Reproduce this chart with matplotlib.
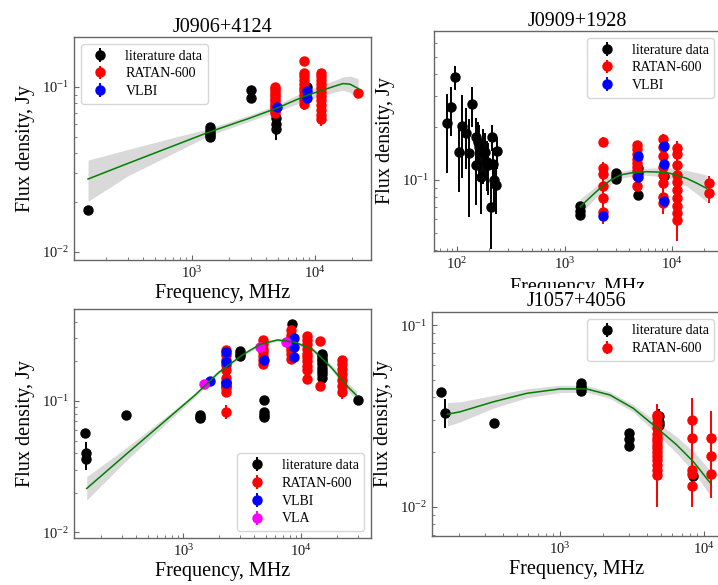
import matplotlib
matplotlib.use("Agg")
import matplotlib.pyplot as plt
from matplotlib.patches import Rectangle

plt.rcParams.update({
    "font.family": ["Liberation Serif", "DejaVu Serif"],
    "mathtext.fontset": "stix",
    "axes.edgecolor": "0.4",
    "axes.linewidth": 1.0,
    "xtick.direction": "in",
    "ytick.direction": "in",
    "xtick.color": "0.4",
    "ytick.color": "0.4",
    "xtick.labelcolor": "0.1",
    "ytick.labelcolor": "0.1",
    "xtick.labelsize": 10.5,
    "ytick.labelsize": 10.5,
    "xtick.major.size": 3.5,
    "ytick.major.size": 3.5,
    "xtick.minor.size": 2.0,
    "ytick.minor.size": 2.0,
    "axes.labelsize": 14.5,
    "axes.titlesize": 14.5,
    "legend.fontsize": 10,
})

# ---------------- J0906+4124 ----------------
lit1_f = [143, 1400, 1400, 1400, 1400, 1400, 3000, 3000, 4850, 4850, 4850, 8600]
lit1_s = [0.018, 0.057, 0.055, 0.053, 0.051, 0.050, 0.096, 0.086, 0.065, 0.060, 0.056, 0.100]
lit1_e = [0.001, 0.002, 0.002, 0.002, 0.002, 0.002, 0.003, 0.003, 0.004, 0.004, 0.008, 0.004]

ratan1_f = [4700] * 12 + [8200] * 10 + [11200] * 12 + [22300]
ratan1_s = [0.100, 0.097, 0.094, 0.091, 0.088, 0.085, 0.082, 0.079, 0.077, 0.075, 0.072, 0.070,
            0.144, 0.122, 0.116, 0.110, 0.104, 0.099, 0.094, 0.089, 0.084, 0.079,
            0.122, 0.116, 0.110, 0.104, 0.098, 0.093, 0.088, 0.083, 0.078, 0.073, 0.068, 0.064,
            0.092]
ratan1_e = [0.005] * 12 + [0.006] * 10 + [0.006] * 12 + [0.006]

vlbi1_f = [4900, 8600, 8600]
vlbi1_s = [0.0757, 0.095, 0.086]
vlbi1_e = [0.003, 0.003, 0.003]

fit1_f = [143, 300, 700, 1374, 2965, 4909, 8453, 11610, 14550, 16900, 19300, 22390]
fit1_s = [0.0277, 0.0344, 0.0439, 0.0533, 0.0649, 0.0746, 0.0887, 0.0959, 0.1014, 0.105, 0.104, 0.098]
fit1_lo = [0.0203, 0.0289, 0.0396, 0.0508, 0.0622, 0.0712, 0.0828, 0.0889, 0.0935, 0.0958, 0.0927, 0.0824]
fit1_hi = [0.0361, 0.0418, 0.0493, 0.0560, 0.0677, 0.0781, 0.0950, 0.1035, 0.1100, 0.1151, 0.1167, 0.1124]

# ---------------- J0909+1928 ----------------
lit2_f = [80, 88, 96, 105, 112, 120, 129, 137, 149, 150, 155, 160, 166, 175, 182, 189, 196, 206,
          210, 214, 222, 231, 237, 1400, 1400, 1400, 3000, 3000, 3000, 4850, 4850, 4850, 8400]
lit2_s = [0.210, 0.259, 0.386, 0.145, 0.203, 0.186, 0.142, 0.269, 0.176, 0.122, 0.165, 0.155,
          0.104, 0.145, 0.145, 0.127, 0.122, 0.0705, 0.176, 0.123, 0.100, 0.0937, 0.146,
          0.071, 0.067, 0.063, 0.110, 0.106, 0.102, 0.117, 0.110, 0.082, 0.105]
lit2_e = [0.10, 0.08, 0.06, 0.06, 0.10, 0.07, 0.08, 0.07, 0.05, 0.05, 0.05, 0.05,
          0.04, 0.05, 0.04, 0.04, 0.04, 0.03, 0.03, 0.03, 0.03, 0.03, 0.03,
          0.002, 0.002, 0.002, 0.003, 0.003, 0.003, 0.005, 0.005, 0.005, 0.004]

ratan2_f = [2300] * 6 + [4700] * 9 + [8200] * 8 + [11200] * 10 + [22300] * 2
ratan2_s = [0.165, 0.117, 0.108, 0.092, 0.079, 0.066,
            0.158, 0.150, 0.140, 0.132, 0.125, 0.118, 0.112, 0.106, 0.092,
            0.172, 0.154, 0.137, 0.119, 0.107, 0.096, 0.080, 0.074,
            0.152, 0.140, 0.121, 0.107, 0.098, 0.088, 0.079, 0.071, 0.065, 0.059,
            0.096, 0.084]
ratan2_e = [0.010] * 6 + [0.008] * 9 + [0.010] * 8 + [0.014] * 10 + [0.010] * 2

vlbi2_f = [2300, 4830, 4830, 8500, 8500, 8500]
vlbi2_s = [0.0624, 0.137, 0.104, 0.156, 0.123, 0.076]
vlbi2_e = [0.004, 0.005, 0.005, 0.005, 0.005, 0.004]

fit2_f = [1400, 1780, 2218, 2700, 3281, 4270, 5820, 7500, 9570, 13700, 17000, 21000]
fit2_s = [0.0705, 0.081, 0.0916, 0.100, 0.1067, 0.110, 0.1115, 0.111, 0.1092, 0.1022, 0.096, 0.0897]
fit2_lo = [0.0636, 0.0747, 0.0854, 0.0944, 0.1019, 0.1051, 0.1065, 0.1048, 0.1019, 0.0922, 0.0836, 0.0754]
fit2_hi = [0.0782, 0.0878, 0.0982, 0.1059, 0.1117, 0.1152, 0.1167, 0.1175, 0.1171, 0.1133, 0.1102, 0.1067]

# ---------------- third source ----------------
lit3_f = [147, 151, 151, 325, 1400, 1400, 1400, 2300, 2300, 3000, 3000, 3000,
          4850, 4850, 4850, 4850, 8400] + [15000] * 9 + [30000]
lit3_s = [0.057, 0.040, 0.036, 0.078, 0.078, 0.076, 0.074, 0.140, 0.131, 0.240, 0.230, 0.220,
          0.101, 0.082, 0.078, 0.075, 0.384,
          0.230, 0.220, 0.210, 0.200, 0.190, 0.180, 0.170, 0.160, 0.150, 0.102]
lit3_e = [0.002, 0.009, 0.006, 0.003, 0.003, 0.003, 0.003, 0.005, 0.005, 0.008, 0.008, 0.008,
          0.004, 0.004, 0.004, 0.004, 0.010] + [0.008] * 9 + [0.003]

ratan3_f = [2300] * 9 + [4700] * 7 + [8200] * 8 + [11200] * 10 + [14400] * 2 + [22300] * 7
ratan3_s = [0.244, 0.224, 0.205, 0.188, 0.172, 0.149, 0.125, 0.118, 0.083,
            0.290, 0.270, 0.250, 0.235, 0.220, 0.205, 0.190,
            0.350, 0.320, 0.300, 0.280, 0.260, 0.245, 0.230, 0.210,
            0.310, 0.290, 0.270, 0.250, 0.230, 0.215, 0.200, 0.185, 0.172, 0.146,
            0.288, 0.131,
            0.205, 0.190, 0.175, 0.160, 0.145, 0.130, 0.118]
ratan3_e = [0.010] * 9 + [0.010] * 7 + [0.012] * 8 + [0.012] * 10 + [0.010] * 2 + [0.015] * 7

vlbi3_f = [1700, 2300, 2300, 2300, 4830, 8600, 8600, 8600]
vlbi3_s = [0.142, 0.237, 0.199, 0.136, 0.206, 0.300, 0.256, 0.218]
vlbi3_e = [0.006, 0.008, 0.008, 0.006, 0.008, 0.010, 0.010, 0.008]

vla3_f = [1500, 4500, 7400]
vla3_s = [0.134, 0.257, 0.280]
vla3_e = [0.005, 0.008, 0.008]

fit3_f = [152, 316, 631, 1259, 1995, 3162, 4467, 6310, 8913, 12590, 17780, 25120, 29500]
fit3_s = [0.0216, 0.0382, 0.0651, 0.111, 0.165, 0.224, 0.270, 0.292, 0.280, 0.245, 0.182, 0.127, 0.110]
fit3_lo = [0.0176, 0.0340, 0.0607, 0.1072, 0.1605, 0.219, 0.264, 0.285, 0.272, 0.237, 0.174, 0.1185, 0.1015]
fit3_hi = [0.0266, 0.0429, 0.0698, 0.1149, 0.1696, 0.229, 0.276, 0.299, 0.288, 0.254, 0.191, 0.136, 0.119]

# ---------------- J1057+4056 ----------------
lit4_f = [150, 160, 350, 1400, 1400, 1400, 1400, 3000, 3000, 3000, 4850, 4850, 4850, 8400]
lit4_s = [0.043, 0.033, 0.0288, 0.0478, 0.046, 0.0448, 0.0433, 0.0255, 0.0235, 0.0216,
          0.0316, 0.0294, 0.0281, 0.0148]
lit4_e = [0.001, 0.006, 0.001, 0.001, 0.001, 0.001, 0.001, 0.001, 0.001, 0.001,
          0.003, 0.003, 0.003, 0.001]

ratan4_f = [4700] * 15 + [8200] * 5 + [11200] * 3
ratan4_s = [0.032, 0.031, 0.029, 0.027, 0.025, 0.024, 0.023, 0.022, 0.021, 0.020,
            0.019, 0.018, 0.017, 0.016, 0.015,
            0.030, 0.024, 0.016, 0.0151, 0.013,
            0.024, 0.019, 0.0151]
ratan4_e = [0.005] * 15 + [0.0095, 0.007, 0.005, 0.004, 0.003] + [0.0097, 0.006, 0.004]

fit4_f = [165, 202, 344, 588, 1000, 1531, 2225, 3230, 4450, 6460, 8440, 11000]
fit4_s = [0.0323, 0.0333, 0.0378, 0.0421, 0.0445, 0.0445, 0.0412, 0.0348, 0.0282, 0.0219, 0.0177, 0.0136]
fit4_lo = [0.0278, 0.0293, 0.0349, 0.0398, 0.0425, 0.0427, 0.0395, 0.0332, 0.0263, 0.0197, 0.0156, 0.0116]
fit4_hi = [0.0375, 0.0378, 0.0410, 0.0446, 0.0466, 0.0464, 0.0429, 0.0364, 0.0302, 0.0243, 0.0201, 0.0159]

W, H = 718, 585
fig = plt.figure(figsize=(W / 100, H / 100), dpi=100)


def px_axes(l, t, r, b):
    return fig.add_axes([l / W, 1 - b / H, (r - l) / W, (b - t) / H])


def draw_panel(ax, fit, series, xlim, ylim, title, loc, title_pad, xpad=2):
    f, s, lo, hi = fit
    ax.fill_between(f, lo, hi, color="0.85", lw=0, zorder=1)
    for fx, sy, ey, col, lab in series:
        ax.errorbar(fx, sy, yerr=ey, fmt="o", color=col, ms=6.5,
                    elinewidth=1.4, capsize=0, label=lab, zorder=2)
    ax.plot(f, s, color="green", lw=1.1, zorder=3)
    ax.set_xscale("log")
    ax.set_yscale("log")
    ax.set_xlim(*xlim)
    ax.set_ylim(*ylim)
    ax.tick_params(which="both", top=False, right=False)
    ax.set_xlabel("Frequency, MHz", labelpad=xpad)
    ax.set_ylabel("Flux density, Jy", labelpad=5)
    if title:
        ax.set_title(title, pad=title_pad)
    ax.legend(loc=loc, labelspacing=0.35, edgecolor="0.8", fancybox=True)


ax1 = px_axes(74, 37, 371, 260)
draw_panel(ax1, (fit1_f, fit1_s, fit1_lo, fit1_hi),
           [(lit1_f, lit1_s, lit1_e, "black", "literature data"),
            (ratan1_f, ratan1_s, ratan1_e, "red", "RATAN-600"),
            (vlbi1_f, vlbi1_s, vlbi1_e, "blue", "VLBI")],
           (110, 28500), (0.00895, 0.201), "J0906+4124", "upper left", 2.5)

ax2 = px_axes(434, 31, 721, 251)
draw_panel(ax2, (fit2_f, fit2_s, fit2_lo, fit2_hi),
           [(lit2_f, lit2_s, lit2_e, "black", "literature data"),
            (ratan2_f, ratan2_s, ratan2_e, "red", "RATAN-600"),
            (vlbi2_f, vlbi2_s, vlbi2_e, "blue", "VLBI")],
           (61, 28600), (0.0395, 0.703), "J0909+1928", "upper right", 3, xpad=4.5)

ax3 = px_axes(74, 309, 371, 538)
draw_panel(ax3, (fit3_f, fit3_s, fit3_lo, fit3_hi),
           [(lit3_f, lit3_s, lit3_e, "black", "literature data"),
            (ratan3_f, ratan3_s, ratan3_e, "red", "RATAN-600"),
            (vlbi3_f, vlbi3_s, vlbi3_e, "blue", "VLBI"),
            (vla3_f, vla3_s, vla3_e, "magenta", "VLA")],
           (118.6, 39000), (0.00906, 0.502), None, "lower right", 3)

ax4 = px_axes(432, 312, 721, 536)
draw_panel(ax4, (fit4_f, fit4_s, fit4_lo, fit4_hi),
           [(lit4_f, lit4_s, lit4_e, "black", "literature data"),
            (ratan4_f, ratan4_s, ratan4_e, "red", "RATAN-600")],
           (129, 13130), (0.0069, 0.118), "J1057+4056", "upper right", 4)
ax4.set_zorder(2)

# the lower-right panel sits over the foot of the upper-right one
cover = Rectangle((373 / W, 1 - 311 / H), (W - 373) / W, 23 / H,
                  transform=fig.transFigure, facecolor="white", edgecolor="none", zorder=1)
fig.add_artist(cover)

fig.savefig("out.png", dpi=100)
